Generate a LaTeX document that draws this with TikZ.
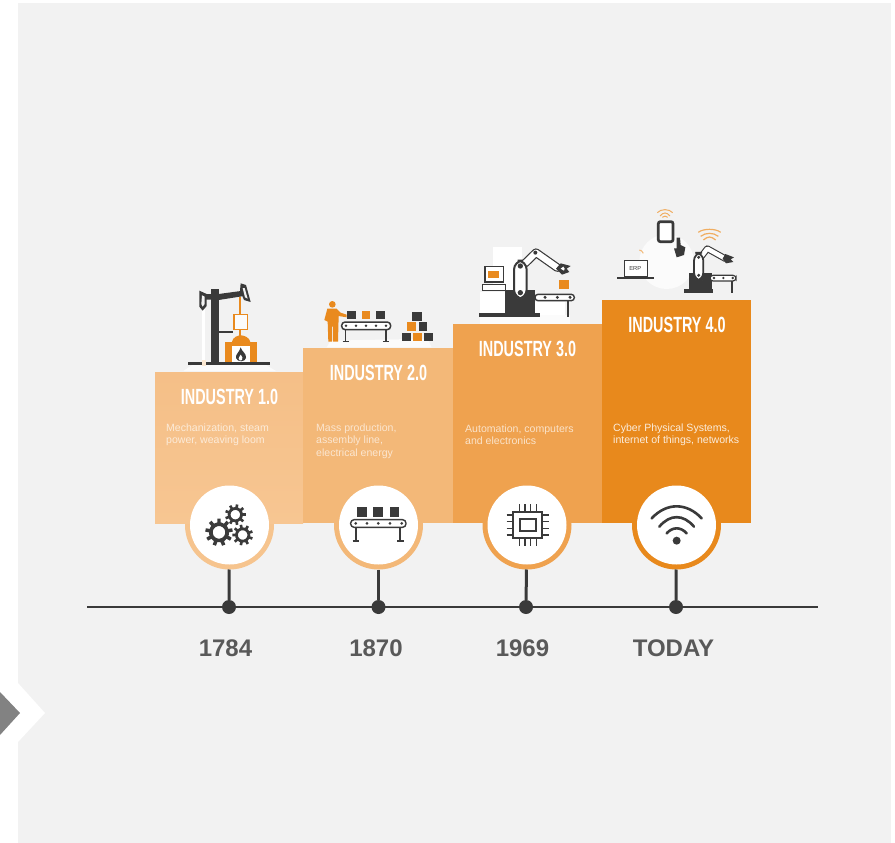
\documentclass[tikz,border=0pt]{standalone}
\usepackage{fontspec}
\usepackage{graphicx}
\setmainfont{Liberation Sans}
\definecolor{panel}{HTML}{F2F2F2}
\definecolor{ink}{HTML}{3A3A3A}
\definecolor{yeartext}{HTML}{595959}
\definecolor{ora}{HTML}{E98A1E}
\definecolor{boxAtop}{HTML}{F5BF87}
\definecolor{boxA}{HTML}{F7C692}
\definecolor{boxB}{HTML}{F3B878}
\definecolor{boxC}{HTML}{EFA24F}
\definecolor{boxD}{HTML}{E8891C}
\definecolor{halo}{HTML}{FBFBFB}
\tikzset{
  zoomed/.style 2 args={shift={(#1,#2)},x=.33333pt,y=-.33333pt},
  stair/.style={anchor=south west,inner sep=0pt,outer sep=0pt},
  ringnode/.style={circle,minimum size=89pt,inner sep=0pt,outer sep=0pt},
  disc/.style={circle,fill=white,minimum size=79pt,inner sep=0pt,outer sep=0pt},
  dot/.style={circle,fill=ink,minimum size=14pt,inner sep=0pt,outer sep=0pt},
  title/.style={text=white,font=\fontsize{22}{24}\selectfont\bfseries,inner sep=0pt},
  body/.style={anchor=west,align=left,inner sep=0pt,font=\fontsize{10.55}{12.3}\selectfont},
  year/.style={text=yeartext,font=\fontsize{24}{26}\selectfont\bfseries,inner sep=0pt},
  stem/.style={draw=ink,line width=3pt},
  axis/.style={draw=ink,line width=2.6pt},
  armcap/.style={fill=white,draw=ink,line width=1.4pt,rounded corners=5pt}
}
\newcommand{\titletext}[1]{\scalebox{0.655}[1]{#1}}
\newcommand{\gearicon}[4]{% x,y,outer r,rotation
  \begin{scope}[shift={(#1,#2)},rotate=#4]
    \foreach \a in {0,40,...,320}{
      \draw[ink,line width=#3*.085pt] (\a:#3*.66) -- (\a:#3);
    }
    \draw[ink,line width=#3*.09pt] (0,0) circle (#3*.6);
  \end{scope}}
\begin{document}
\begin{tikzpicture}[x=1pt,y=-1pt]
\useasboundingbox (0,0) rectangle (895,843);
\fill[white] (0,0) rectangle (895,843);
\fill[panel] (18,3) rectangle (891,843);
% chevron
\fill[white] (18,683) -- (45,713) -- (18,742) -- cycle;
\fill[fill=black!49] (0,692) -- (20,713) -- (0,735) -- cycle;

% timeline
\coordinate (axisL) at (87,607);
\coordinate (axisR) at (818,607);
\draw[axis] (axisL) -- (axisR);

% rings
\node[ringnode,fill=boxA!85!boxB] (r1) at (229.5,525) {};
\node[ringnode,fill=boxB] (r2) at (378.5,525) {};
\node[ringnode,fill=boxC] (r3) at (527,525) {};
\node[ringnode,fill=boxD] (r4) at (676.5,525) {};

% stairs
\node[stair,minimum width=148pt,minimum height=151pt,top color=boxAtop,bottom color=boxA] (s1) at (155,523) {};
\node[stair,minimum width=150pt,minimum height=175pt,fill=boxB] (s2) at (303,523) {};
\node[stair,minimum width=149pt,minimum height=199pt,fill=boxC] (s3) at (453,523) {};
\node[stair,minimum width=149pt,minimum height=223pt,fill=boxD] (s4) at (602,523) {};

% discs + dots
\node[disc] (c1) at (229.5,525) {};
\node[disc] (c2) at (378.5,525) {};
\node[disc] (c3) at (527,525) {};
\node[disc] (c4) at (676.5,525) {};
\node[dot] (d1) at (229,607) {};
\node[dot] (d2) at (378.5,607) {};
\node[dot] (d3) at (526,607) {};
\node[dot] (d4) at (676,607) {};
\draw[stem] (r1) -- (d1);
\draw[stem] (r2) -- (d2);
\draw[stem] (r3) -- (d3);
\draw[stem] (r4) -- (d4);

% titles
\node[title] (t1) at (229.5,396.5) {\titletext{INDUSTRY 1.0}};
\node[title] (t2) at (378.5,372.5) {\titletext{INDUSTRY 2.0}};
\node[title] (t3) at (527.5,348.5) {\titletext{INDUSTRY 3.0}};
\node[title] (t4) at (677,324.5) {\titletext{INDUSTRY 4.0}};

% body
\node[body,text=white!65!boxA] (b1) at (166,435) {Mechanization, steam\\power, weaving loom};
\node[body,text=white!65!boxB] (b2) at (316,441) {Mass production,\\assembly line,\\electrical energy};
\node[body,text=white!70!boxC] (b3) at (465,435) {Automation, computers\\and electronics};
\node[body,text=white!85!boxD] (b4) at (613,435) {Cyber Physical Systems,\\internet of things, networks};

% years
\node[year] (y1) at (225.5,648) {1784};
\node[year] (y2) at (376,648) {1870};
\node[year] (y3) at (522.5,648) {1969};
\node[year] (y4) at (673.5,648) {TODAY};

% ---- icon 1: steam engine
\begin{scope}[zoomed={150}{270}]
  \fill[halo] (100,303) -- (130,283) -- (345,283) -- (378,303) -- cycle;
  \fill[white] (156,115) rectangle (166,285);
  \fill[ink] (115,276) rectangle (360,286);
  \fill[white!80!ora] (156,270) rectangle (168,288);
  \fill[ink] (184,58) rectangle (206,282);
  \fill[ink] (150,72) -- (206,72) -- (280,62) -- (282,78) -- (206,90) -- (150,88) -- cycle;
  \fill[ink] (148,62) -- (170,72) -- (170,108) -- (158,122) -- (148,110) -- cycle;
  \fill[panel] (156,76) -- (164,80) -- (164,102) -- (158,110) -- (154,102) -- cycle;
  \fill[ink] (272,40) -- (288,45) -- (302,96) -- (282,90) -- (270,62) -- cycle;
  \fill[panel] (278,54) -- (284,54) -- (293,86) -- (285,82) -- cycle;
  \draw[ora,line width=1.2pt] (270,82) -- (270,132);
  \draw[ink,line width=1.2pt] (206,186) -- (250,186);
  \draw[ora,line width=1.6pt,fill=halo] (252,133) rectangle (292,178);
  \draw[ora,line width=1.2pt] (270,178) -- (270,198);
  \fill[ora] (225,215) rectangle (322,276);
  \fill[ora] (245,218) .. controls (248,200) and (265,196) .. (272,196) .. controls (280,196) and (298,200) .. (302,218) -- cycle;
  \fill[white] (245,228) rectangle (300,276);
  \fill[ink] (272,232) .. controls (275,245) and (290,250) .. (288,264) .. controls (286,276) and (262,278) .. (258,264) .. controls (256,252) and (268,248) .. (272,232) -- cycle;
  \fill[white] (272,254) .. controls (276,260) and (280,264) .. (276,270) .. controls (272,274) and (266,272) .. (266,266) .. controls (266,262) and (270,258) .. (272,254) -- cycle;
\end{scope}

% ---- icon 2: assembly
\begin{scope}[zoomed={150}{270}]
  \fill[halo] (530,232) -- (542,212) -- (832,206) -- (845,232) -- cycle;
  % person
  \fill[ora] (547,103) circle (10);
  \fill[ora] (532,116) -- (560,116) -- (572,128) -- (590,134) -- (590,142) -- (566,138) -- (564,215) -- (549,215) -- (549,170) -- (546,170) -- (546,215) -- (535,215) -- (533,155) -- (523,150) -- cycle;
  % boxes
  \fill[ink] (592,122) rectangle (617,148);
  \fill[ora] (636,122) rectangle (660,148);
  \fill[ink] (678,122) rectangle (704,148);
  % belt
  \draw[ink,line width=1.5pt,fill=white,rounded corners=3.5pt] (575,156) rectangle (722,179);
  \foreach \x in {588,618,648,678,708}{\fill[ink] (\x,167) circle (4);}
  \draw[ink,line width=1.6pt] (587,179) -- (587,214) (708,179) -- (708,214);
  \draw[ink,line width=1.2pt] (578,214) -- (596,214) (699,214) -- (717,214);
  % pyramid
  \fill[ink] (787,125) rectangle (815,152);
  \fill[ora] (772,157) rectangle (798,183);
  \fill[ink] (806,157) rectangle (832,183);
  \fill[ink] (755,188) rectangle (782,214);
  \fill[ora] (788,188) rectangle (815,214);
  \fill[ink] (822,188) rectangle (848,214);
\end{scope}

% ---- icon 3: robot + computer
\begin{scope}[zoomed={450}{200}]
  \fill[halo] (90,372) -- (90,345) -- (360,345) -- (360,372) -- cycle;
  \fill[white] (130,140) rectangle (215,270);
  \fill[white] (90,275) rectangle (165,345);
  \draw[ink,line width=1pt,fill=white] (97,252) rectangle (165,270);
  \draw[ink,line width=1.6pt,fill=white] (105,200) rectangle (160,246);
  \fill[ora] (113,212) rectangle (148,235);
  \fill[white] (255,305) rectangle (345,345);
  \fill[ink] (165,270) rectangle (255,340);
  \fill[ink] (88,338) rectangle (270,350);
  % conveyor
  \draw[ink,line width=1.4pt,fill=white,rounded corners=3pt] (255,283) rectangle (373,302);
  \foreach \x in {285,322,360}{\fill[ink] (\x,292) circle (5);}
  \draw[ink,line width=1.8pt] (355,302) -- (355,350);
  \fill[ora] (328,240) rectangle (356,268);
  % arm
  \draw[ink,line width=8.6pt,line cap=round,line join=round] (225,190) -- (258,158) -- (322,203);
  \draw[white,line width=6.2pt,line cap=round,line join=round] (225,190) -- (258,158) -- (322,203);
  \fill[ink] (332,190) -- (362,198) -- (350,206) -- (358,216) -- (336,224) -- (318,206) -- cycle;
  \fill[white] (340,200) -- (344,206) -- (342,212) -- (332,206) -- cycle;
  \draw[armcap,rounded corners=9pt,line width=2pt] (192,182) rectangle (230,296);
  \fill[ink] (211,198) circle (8);
  \fill[ink] (211,278) circle (8);
  \fill[ink] (256,158) circle (6);
\end{scope}

% ---- icon 4: smart factory
\begin{scope}[zoomed={450}{200}]
  \fill[halo] (650,185) circle (82);
  % tablet
  \draw[ink,line width=2.7pt,fill=white,rounded corners=2pt] (625,65) rectangle (669,125);
  % hand
  \fill[ink] (680,113) -- (690,113) -- (692,135) -- (706,142) -- (702,165) -- (680,172) -- (672,145) -- (680,145) -- cycle;
  % laptop
  \draw[ink,line width=1.5pt,fill=white] (524,181) rectangle (592,230);
  \fill[ink] (502,230) rectangle (612,236);
  \node[inner sep=0pt,font=\fontsize{5.8}{6}\selectfont,text=ink] (erp) at (556,206) {ERP};
  % robot
  \fill[ink] (718,220) rectangle (785,270);
  \fill[ink] (703,268) rectangle (790,278);
  \draw[ink,line width=1.2pt,fill=white,rounded corners=3pt] (780,226) rectangle (858,243);
  \foreach \x in {792,820,848}{\fill[ink] (\x,234) circle (4);}
  \draw[ink,line width=1.8pt] (845,243) -- (845,280);
  \draw[ink,line width=6.6pt,line cap=round,line join=round] (752,172) -- (772,146) -- (826,176);
  \draw[white,line width=4.4pt,line cap=round,line join=round] (752,172) -- (772,146) -- (826,176);
  \fill[ink] (826,162) -- (852,172) -- (842,178) -- (850,186) -- (828,190) -- (818,176) -- cycle;
  \draw[armcap,rounded corners=8pt,line width=1.8pt] (732,158) rectangle (760,242);
  \fill[ink] (746,172) circle (5);
  \fill[ink] (746,226) circle (5);
  % wifi
  \foreach \p/\q/\h in {622/668/26,630/660/36}{\draw[ora!70!white,line width=1pt] (\p,\h+12) .. controls (\p+10,\h) and (\q-10,\h) .. (\q,\h+12);}
  \draw[ora!70!white,line width=1pt] (637,52) .. controls (642,47) and (648,47) .. (653,52);
  \foreach \p/\q/\h in {745/812/85,752/805/97,760/797/108}{\draw[ora!70!white,line width=1.2pt] (\p,\h+12) .. controls (\p+15,\h) and (\q-15,\h) .. (\q,\h+12);}
  \draw[ora!60!white,line width=1pt] (568,150) .. controls (572,150) and (578,154) .. (580,160);
\end{scope}

% ---- gears
\begin{scope}[zoomed={150}{470}]
  \gearicon{207}{187}{41}{10}
  \gearicon{256}{134}{31}{0}
  \gearicon{278}{195}{31}{20}
\end{scope}

% ---- conveyor icon
\begin{scope}[zoomed={150}{470}]
  \fill[ink] (622,110) rectangle (650,140);
  \fill[ink] (670,110) rectangle (698,140);
  \fill[ink] (720,110) rectangle (748,140);
  \draw[ink,line width=1.4pt,rounded corners=3.5pt] (602,149) rectangle (768,172);
  \foreach \x in {617,651,685,720,755}{\fill[ink] (\x,160) circle (4.5);}
  \draw[ink,line width=1.5pt] (618,172) -- (618,213) (750,172) -- (750,213);
  \draw[ink,line width=1.3pt] (608,213) -- (628,213) (742,213) -- (762,213);
\end{scope}

% ---- chip icon
\begin{scope}[zoomed={450}{470}]
  \draw[ink,line width=1.8pt] (190,125) rectangle (275,205);
  \draw[ink,line width=1.8pt] (209,146) rectangle (257,184);
  \foreach \y in {135,155,175,195}{\draw[ink,line width=1.5pt] (170,\y) -- (190,\y) (275,\y) -- (297,\y);}
  \foreach \x in {208,225,242,259}{\draw[ink,line width=1.5pt] (\x,102) -- (\x,125) (\x,205) -- (\x,228);}
\end{scope}

% ---- wifi icon
\begin{scope}[zoomed={450}{470}]
  \draw[ink,line width=2.6pt,line cap=round] (605,145) .. controls (650,97) and (710,97) .. (755,145);
  \draw[ink,line width=2.6pt,line cap=round] (628,170) .. controls (660,132) and (700,132) .. (732,170);
  \draw[ink,line width=2.6pt,line cap=round] (650,190) .. controls (668,170) and (692,170) .. (710,190);
  \fill[ink] (680,212) circle (12);
\end{scope}
\end{tikzpicture}
\end{document}
